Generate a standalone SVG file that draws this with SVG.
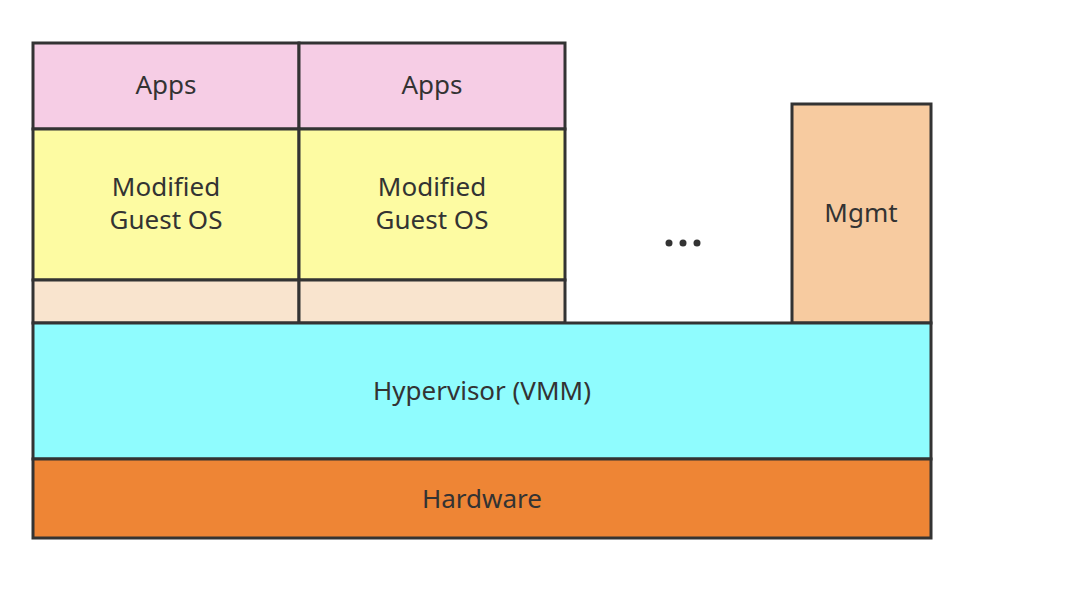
<svg xmlns="http://www.w3.org/2000/svg" width="1080" height="589" viewBox="0 0 1080 589">
<style>
rect{stroke:#333;stroke-width:3}
text{font-family:"Noto Sans","Liberation Sans",Arial,sans-serif;font-size:26px;fill:#333;text-anchor:middle}
</style>
<rect x="0" y="0" width="1080" height="589" fill="#fff" style="stroke:none"/>
<g id="apps1"><rect x="33" y="43" width="266" height="86" fill="#F6CDE5"/><text x="166" y="94">Apps</text></g>
<g id="apps2"><rect x="299" y="43" width="266" height="86" fill="#F6CDE5"/><text x="432" y="94">Apps</text></g>
<g id="os1"><rect x="33" y="129" width="266" height="151" fill="#FDFBA2"/><text x="166" y="196">Modified</text><text x="166" y="229">Guest OS</text></g>
<g id="os2"><rect x="299" y="129" width="266" height="151" fill="#FDFBA2"/><text x="432" y="196">Modified</text><text x="432" y="229">Guest OS</text></g>
<g id="base1"><rect x="33" y="280" width="266" height="43" fill="#F9E4CE"/></g>
<g id="base2"><rect x="299" y="280" width="266" height="43" fill="#F9E4CE"/></g>
<g id="dots"><circle cx="669" cy="243" r="3.5" fill="#333"/><circle cx="683" cy="243" r="3.5" fill="#333"/><circle cx="697" cy="243" r="3.5" fill="#333"/></g>
<g id="mgmt"><rect x="792" y="104" width="139" height="219" fill="#F7CBA0"/><text x="861" y="222">Mgmt</text></g>
<g id="hypervisor"><rect x="33" y="323" width="898" height="136" fill="#8FFCFE"/><text x="482" y="400">Hypervisor (VMM)</text></g>
<g id="hardware"><rect x="33" y="459" width="898" height="79" fill="#EE8535"/><text x="482" y="508">Hardware</text></g>
<g id="connectors"></g>
</svg>
